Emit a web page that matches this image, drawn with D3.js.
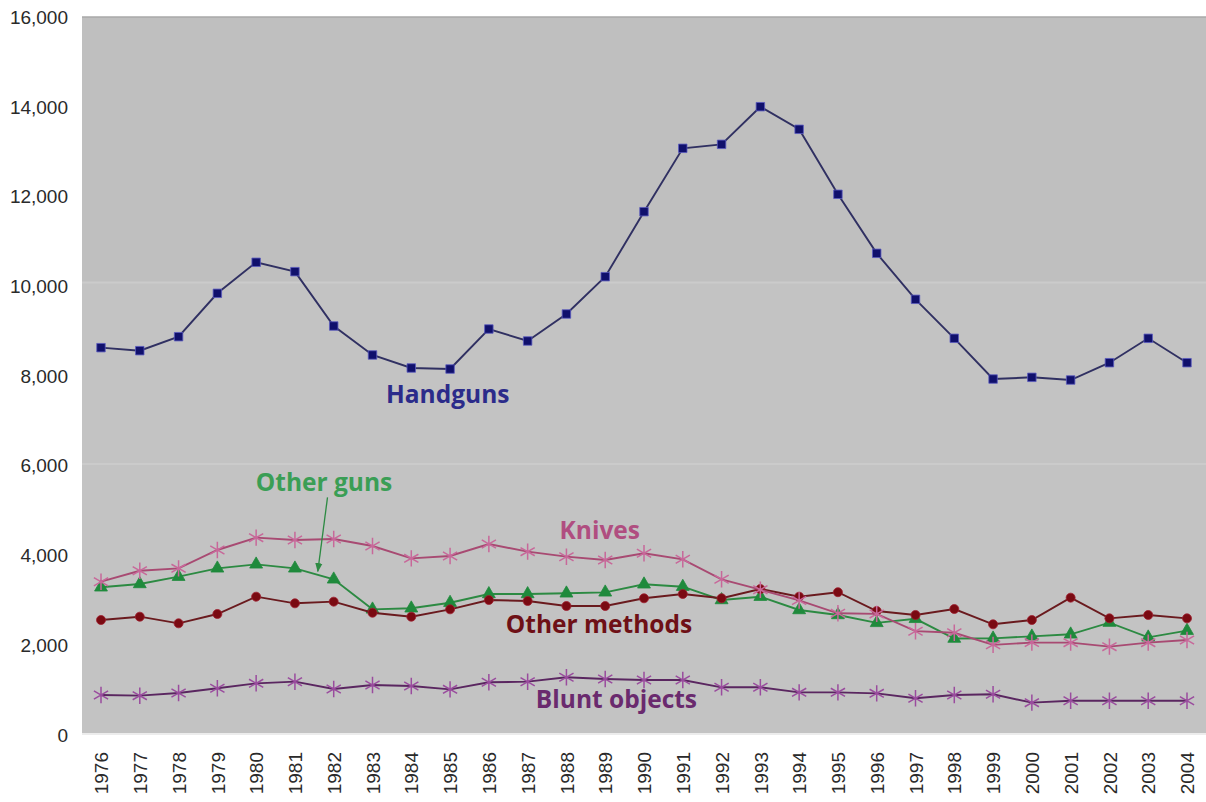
<!DOCTYPE html>
<html><head><meta charset="utf-8">
<script src="https://cdn.jsdelivr.net/npm/d3@7"></script>
<style>
html,body{margin:0;padding:0;background:#fff;}
svg{display:block;}
</style></head>
<body>
<svg id="chart" width="1206" height="802"></svg>
<script>
const years = [1976,1977,1978,1979,1980,1981,1982,1983,1984,1985,1986,1987,1988,1989,1990,1991,1992,1993,1994,1995,1996,1997,1998,1999,2000,2001,2002,2003,2004];
const handguns = [8636,8569,8881,9848,10540,10331,9119,8473,8183,8160,9052,8785,9387,10219,11668,13081,13170,14009,13505,12056,10740,9714,8845,7937,7975,7915,8301,8845,8301];
const otherGuns = [3293,3367,3530,3716,3805,3716,3471,2802,2825,2950,3144,3144,3159,3181,3360,3307,3010,3084,2787,2676,2500,2590,2150,2155,2200,2245,2505,2178,2326];
const knives = [3418,3663,3716,4125,4400,4348,4370,4214,3939,3991,4259,4088,3976,3902,4051,3917,3471,3240,3000,2713,2700,2315,2280,2010,2060,2059,1970,2059,2118];
const otherMethods = [2564,2638,2490,2698,3084,2936,2973,2727,2638,2802,3010,2988,2876,2876,3048,3144,3048,3255,3084,3184,2765,2676,2809,2468,2564,3062,2601,2676,2601];
const bluntObjects = [892,877,936,1041,1152,1189,1026,1115,1093,1018,1175,1189,1286,1249,1226,1226,1063,1063,951,951,929,818,892,907,721,765,765,765,765];
const yTicks = [0,2000,4000,6000,8000,10000,12000,14000,16000];
const seriesNames = ["Handguns","Other guns","Knives","Other methods","Blunt objects"];

const svg = d3.select("#chart");
const plot = {left:82, right:1206, top:17, bottom:735};

const x = d3.scalePoint().domain(years).range([101,1187]);
const y = d3.scaleLinear().domain([0,16000]).range([plot.bottom, 17.4]);
const step = x.step();
const xi = i => x(years[0]) + i*step;

// background
svg.append("rect").attr("x",plot.left).attr("y",plot.top)
  .attr("width",plot.right-plot.left).attr("height",plot.bottom-plot.top).attr("fill","#c3c3c3");
svg.append("rect").attr("x",plot.left).attr("y",plot.top)
  .attr("width",plot.right-plot.left).attr("height",y(10000)-4-plot.top).attr("fill","#bfbfbf");
[10000,6000].forEach(v=>{
  svg.append("line").attr("x1",plot.left).attr("x2",plot.right)
    .attr("y1",y(v)-4+ (v===6000?2:0)).attr("y2",y(v)-4+(v===6000?2:0))
    .attr("stroke","#cbcbcb").attr("stroke-width",2);
});
svg.append("line").attr("x1",plot.left).attr("x2",plot.right).attr("y1",plot.top).attr("y2",plot.top)
  .attr("stroke","#a8a8a8").attr("stroke-width",1.5);
svg.append("line").attr("x1",plot.left).attr("x2",plot.right).attr("y1",plot.bottom-1).attr("y2",plot.bottom-1)
  .attr("stroke","#ececec").attr("stroke-width",2);

// axes
const yAxis = svg.append("g").attr("transform",`translate(${plot.left},0)`)
  .call(d3.axisLeft(y).tickValues(yTicks).tickSize(0).tickPadding(14).tickFormat(d3.format(",")));
yAxis.select(".domain").remove();
yAxis.selectAll("text").attr("font-family","'Liberation Sans', Arial, sans-serif").attr("font-size",19).attr("fill","#2a2a2a");

const xAxis = svg.append("g").attr("transform",`translate(0,${plot.bottom})`)
  .call(d3.axisBottom(x).tickSize(0));
xAxis.select(".domain").remove();
xAxis.selectAll("text").attr("transform","rotate(-90)").attr("x",-17).attr("y",0).attr("dy","0.35em")
  .style("text-anchor","end").attr("font-family","'Liberation Sans', Arial, sans-serif").attr("font-size",19).attr("fill","#2a2a2a");

// series
const series = [
  {name:seriesNames[1], values:otherGuns, line:"#2c8a42", fill:"#1f8a3c", stroke:"#1f8a3c", sym:d3.symbolTriangle, size:72},
  {name:seriesNames[3], values:otherMethods, line:"#6a1a1e", fill:"#7a0a12", stroke:"#a02030", sym:d3.symbolCircle, size:64},
  {name:seriesNames[2], values:knives, line:"#a84a72", fill:"none", stroke:"#c8689a", sym:d3.symbolAsterisk, size:190},
  {name:seriesNames[4], values:bluntObjects, line:"#5a2660", fill:"none", stroke:"#9a4c9e", sym:d3.symbolAsterisk, size:190},
  {name:seriesNames[0], values:handguns, line:"#303062", fill:"#10106c", stroke:"#5a5ac0", sym:d3.symbolSquare, size:72}
];
const lineGen = d3.line().x((d,i)=>x(years[i])).y(d=>y(d));
series.forEach(s=>{
  const g = svg.append("g");
  g.append("path").datum(s.values).attr("d",lineGen).attr("fill","none")
    .attr("stroke",s.line).attr("stroke-width",1.9);
  g.selectAll("path.m").data(s.values).join("path").attr("class","m")
    .attr("transform",(d,i)=>`translate(${x(years[i])},${y(d)})`)
    .attr("d",d3.symbol().type(s.sym).size(s.size))
    .attr("fill",s.fill).attr("stroke",s.stroke)
    .attr("stroke-width",s.fill==="none"?1.5:0.8);
});

// annotations
const font = "'Open Sans', 'Noto Sans', sans-serif";
const labels = [
  {text:seriesNames[0], i:8.94, v:7402, color:"#2b2b8a"},
  {text:seriesNames[1], i:5.75, v:5440, color:"#3a9e55"},
  {text:seriesNames[2], i:12.86, v:4370, color:"#b04e80"},
  {text:seriesNames[3], i:12.84, v:2274, color:"#6e1016"},
  {text:seriesNames[4], i:13.29, v:602, color:"#6a2a6e"}
];
svg.selectAll("text.lab").data(labels).join("text").attr("class","lab")
  .attr("x",d=>xi(d.i)).attr("y",d=>y(d.v)).attr("text-anchor","middle")
  .attr("font-family",font).attr("font-weight",700).attr("font-size",24.5)
  .attr("fill",d=>d.color).text(d=>d.text);

// arrow for Other guns
svg.append("defs").append("marker").attr("id","ah").attr("viewBox","0 0 10 10")
  .attr("refX",9).attr("refY",5).attr("markerWidth",7).attr("markerHeight",7).attr("orient","auto")
  .append("path").attr("d","M0,1 L10,5 L0,9 Z").attr("fill","#2c8a42");
svg.append("line").attr("x1",xi(5.84)).attr("y1",y(5300)).attr("x2",xi(5.59)).attr("y2",y(3650))
  .attr("stroke","#2c8a42").attr("stroke-width",1.3).attr("marker-end","url(#ah)");
</script>
</body></html>
